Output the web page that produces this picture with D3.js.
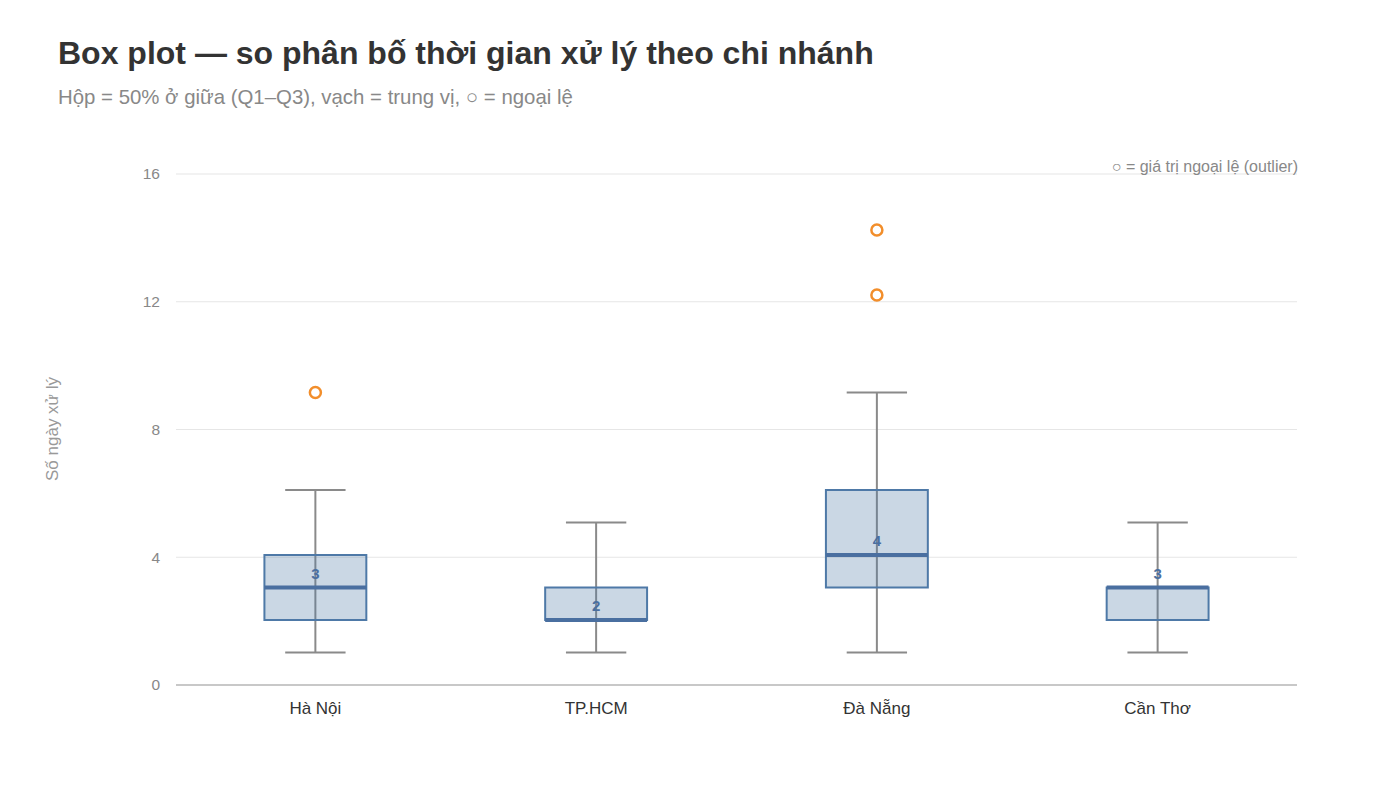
<!DOCTYPE html>
<html><head><meta charset="utf-8">
<script src="https://cdn.jsdelivr.net/npm/d3@7"></script>
<style>body{margin:0;background:#fff;font-family:"Liberation Sans",Arial,Helvetica,sans-serif;}</style>
</head><body><svg id="c" width="1400" height="787"></svg>
<script>
const branches = ["Hà Nội", "TP.HCM", "Đà Nẵng", "Cần Thơ"];
const whiskerLow = [1, 1, 1, 1];
const q1 = [2, 2, 3, 2];
const median = [3, 2, 4, 3];
const q3 = [4, 3, 6, 3];
const whiskerHigh = [6, 5, 9, 5];
const outliers = [[9], [], [12, 14], []];
const yTicks = [0, 4, 8, 12, 16];

const svg = d3.select("#c");
const left = 175, right = 1298, bottom = 685;
const x = d3.scaleBand().domain(branches).range([left, right]).padding(0);
// data scale and axis scale (as in reference, grid ticks sit slightly lower than the marks' scale)
const y = d3.scaleLinear().domain([0, 16]).range([bottom, 165]);
const yAxisScale = d3.scaleLinear().domain([0, 16]).range([bottom, 174]);

svg.append("text").attr("x", 58).attr("y", 64).attr("font-size", 32).attr("font-weight", "bold")
  .attr("fill", "#333").text("Box plot — so phân bố thời gian xử lý theo chi nhánh");
svg.append("text").attr("x", 58).attr("y", 104).attr("font-size", 20.4).attr("fill", "#888")
  .text("Hộp = 50% ở giữa (Q1–Q3), vạch = trung vị, ○ = ngoại lệ");

// grid
const g = svg.append("g");
g.selectAll("line.grid").data(yTicks).join("line")
  .attr("x1", left + 1).attr("x2", right - 1)
  .attr("y1", d => yAxisScale(d)).attr("y2", d => yAxisScale(d))
  .attr("stroke", d => d === 0 ? "#c8c8c8" : "#e6e6e6")
  .attr("stroke-width", d => d === 0 ? 2 : 1.2);
g.selectAll("text.tick").data(yTicks).join("text")
  .attr("x", 160).attr("y", d => yAxisScale(d)).attr("dy", "0.35em")
  .attr("text-anchor", "end").attr("font-size", 15.5).attr("fill", "#888").text(d => d);
svg.append("text").attr("transform", "translate(58,429) rotate(-90)")
  .attr("text-anchor", "middle").attr("font-size", 17).attr("fill", "#999").text("Số ngày xử lý");

svg.append("text").attr("x", right).attr("y", 172).attr("text-anchor", "end")
  .attr("font-size", 16).attr("fill", "#888").text("○ = giá trị ngoại lệ (outlier)");

// x labels
svg.selectAll("text.xl").data(branches).join("text")
  .attr("x", d => x(d) + x.bandwidth() / 2).attr("y", 714)
  .attr("text-anchor", "middle").attr("font-size", 17).attr("fill", "#333").text(d => d);

const bw = x.bandwidth() * 0.363, cw = x.bandwidth() * 0.215;
branches.forEach((b, i) => {
  const cx = x(b) + x.bandwidth() / 2;
  const grp = svg.append("g");
  grp.append("line").attr("x1", cx).attr("x2", cx).attr("y1", y(whiskerLow[i])).attr("y2", y(whiskerHigh[i]))
    .attr("stroke", "#8a8a8a").attr("stroke-width", 2);
  [whiskerLow[i], whiskerHigh[i]].forEach(v => {
    grp.append("line").attr("x1", cx - cw / 2).attr("x2", cx + cw / 2).attr("y1", y(v)).attr("y2", y(v))
      .attr("stroke", "#8a8a8a").attr("stroke-width", 2);
  });
  grp.append("rect").attr("x", cx - bw / 2).attr("width", bw)
    .attr("y", y(q3[i])).attr("height", y(q1[i]) - y(q3[i]))
    .attr("fill", "rgba(78,121,167,0.3)").attr("stroke", "#4e79a7").attr("stroke-width", 2);
  grp.append("line").attr("x1", cx - bw / 2).attr("x2", cx + bw / 2)
    .attr("y1", y(median[i])).attr("y2", y(median[i]))
    .attr("stroke", "#4a6fa0").attr("stroke-width", 4);
  grp.append("text").attr("x", cx).attr("y", y(median[i]) - 14).attr("dy", "0.35em")
    .attr("text-anchor", "middle").attr("font-size", 15).attr("font-weight", "bold")
    .attr("fill", "#4a6fa0").text(d3.format("d")(median[i]));
  grp.selectAll("circle").data(outliers[i]).join("circle")
    .attr("cx", cx).attr("cy", d => y(d)).attr("r", 5.5)
    .attr("fill", "#fff").attr("stroke", "#f28e2b").attr("stroke-width", 2.5);
});
</script></body></html>
